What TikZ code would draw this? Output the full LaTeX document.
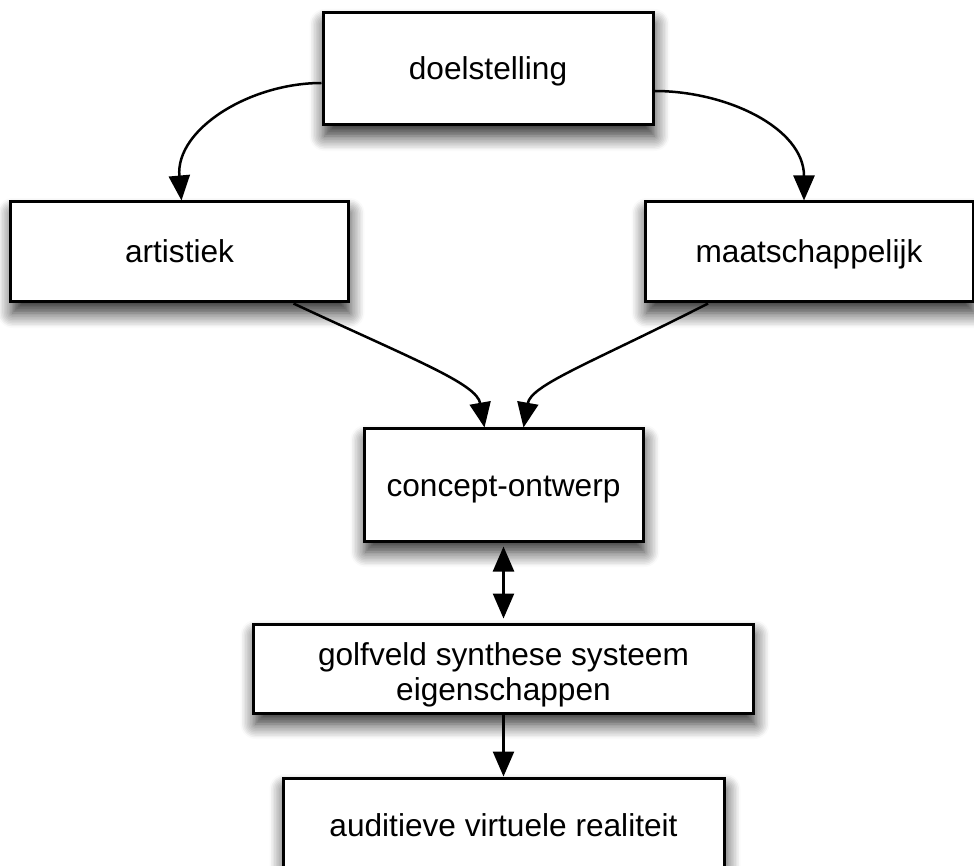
\documentclass[tikz,border=0pt]{standalone}
\usepackage{fontspec}
\setmainfont{Liberation Sans}
\usetikzlibrary{calc, arrows.meta, shadows.blur}

\begin{document}
\begin{tikzpicture}[x = 0.2mm, y = 0.2mm,
		box/.style = {draw, line width = 0.6mm, fill = white, align = center, inner sep = 0pt,
			font = \fontsize{18}{20}\selectfont,
			blur shadow = {shadow xshift = 0.3mm, shadow yshift = -2.2mm, shadow blur radius = 3mm, shadow blur steps = 10, shadow opacity = 85}},
		oneline/.style = {text height = 5mm, text depth = 0.6mm},
		>={Triangle[length = 5mm, width = 4.2mm]}]
		\path[use as bounding box, clip] (0,0) rectangle (974,-866);
	
		\node[box, oneline, minimum width = 66mm, minimum height = 22.4mm] (doel) at (488,-69) {doelstelling};
		\node[box, oneline, minimum width = 67.4mm, minimum height = 20mm] (art) at (179.5,-252) {artistiek};
		\node[box, oneline, minimum width = 65.6mm, minimum height = 20mm] (maat) at (809,-252) {maatschappelijk};
		\node[box, oneline, minimum width = 55.8mm, minimum height = 22.4mm] (concept) at (503.5,-485) {concept-ontwerp};
		\node[box, text height = 14mm, minimum width = 99.8mm, minimum height = 17.8mm] (golf) at (503.5,-668.5) {golfveld synthese systeem\\eigenschappen};
		\node[box, oneline, minimum width = 88.2mm, minimum height = 18.8mm] (audit) at (503.5,-825) {auditieve virtuele realiteit};
	
		\begin{scope}[line width = 0.5mm, ->]
			\draw ($(doel.west)+(0,-14)$) to [out = 180, in = 95] ($(art.north)+(2,0)$);
			\draw ($(doel.east)+(0,-22)$) to [out = 0, in = 90] ($(maat.north)+(-5,0)$);
			\draw ($(art.south)+(114,0)$) to [out = -25, in = 100, out looseness = 1.5, in looseness = 0.5] ($(concept.north)+(-19,0)$);
			\draw ($(maat.south)+(-101,0)$) to [out = 207, in = 80, out looseness = 1.5, in looseness = 0.5] ($(concept.north)+(20,0)$);
			\draw[<->, shorten <= 0.8mm, shorten >= 0.8mm] (concept.south) -- (golf.north);
			\draw (golf.south) -- (audit.north);
		\end{scope}
	\end{tikzpicture}
\end{document}
